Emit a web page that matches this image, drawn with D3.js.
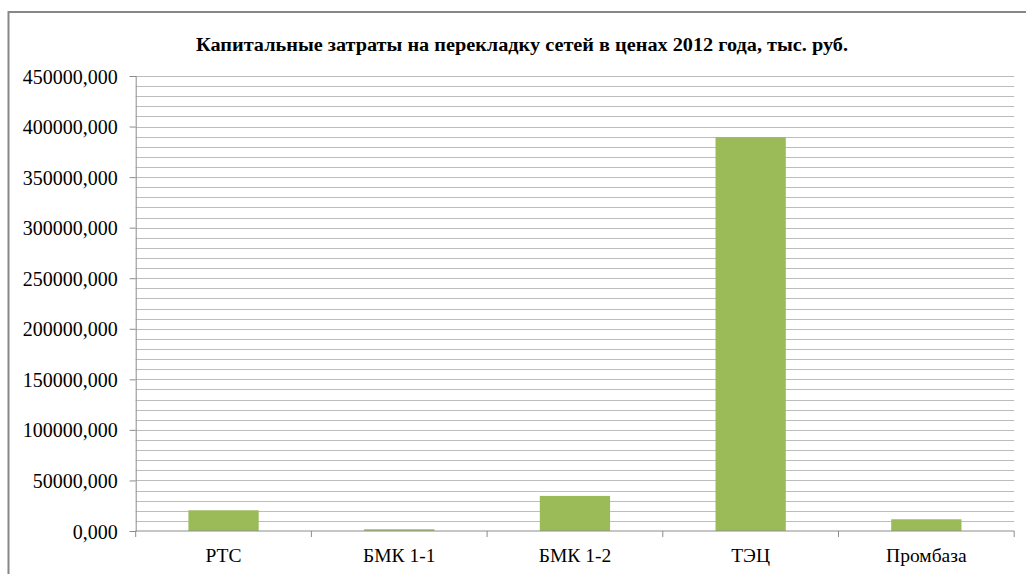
<!DOCTYPE html>
<html><head><meta charset="utf-8">
<script src="https://cdn.jsdelivr.net/npm/d3@7"></script>
<style>body{margin:0;background:#fff}svg{display:block}</style>
</head><body>
<svg id="c" width="1026" height="574"></svg>
<script>
const title = "Капитальные затраты  на перекладку сетей в ценах 2012 года, тыс.  руб.";
const categories = ["РТС", "БМК 1-1", "БМК 1-2", "ТЭЦ", "Промбаза"];
const values = [20500, 1700, 34700, 389500, 11600];
const yMax = 450000;
const majorStep = 50000;
const minorStep = 10000;

const FONT = "'Liberation Serif', 'Times New Roman', serif";
const svg = d3.select("#c");
const m = {left: 135.7, right: 1014.2, top: 76, bottom: 531};

svg.append("rect").attr("x", 8.5).attr("y", 12).attr("width", 1030).attr("height", 580)
  .attr("fill", "#fff").attr("stroke", "#878787").attr("stroke-width", 2);

svg.append("text").attr("x", 522).attr("y", 51).attr("text-anchor", "middle")
  .attr("font-family", FONT).attr("font-weight", "bold").attr("font-size", 18.5)
  .attr("textLength", 652).attr("lengthAdjust", "spacingAndGlyphs")
  .attr("fill", "#000").text(title);

const x = d3.scaleBand().domain(categories).range([m.left, m.right]).paddingInner(0.6).paddingOuter(0.3);
const y = d3.scaleLinear().domain([0, yMax]).range([m.bottom, m.top]);

// gridlines
const minor = d3.range(minorStep, yMax + 1, minorStep);
svg.append("g").selectAll("line").data(minor).join("line")
  .attr("x1", m.left).attr("x2", m.right)
  .attr("y1", d => Math.round(y(d)) + 0.5).attr("y2", d => Math.round(y(d)) + 0.5)
  .attr("stroke", "#bdbdbd").attr("stroke-width", 1);

// bars
svg.append("g").selectAll("rect").data(values).join("rect")
  .attr("x", (d, i) => x(categories[i])).attr("width", x.bandwidth())
  .attr("y", d => y(d)).attr("height", d => y(0) - y(d))
  .attr("fill", "#9bbb59");

// y axis
const yAxis = d3.axisLeft(y).tickValues(d3.range(0, yMax + 1, majorStep))
  .tickFormat(d => d3.format("d")(d) + ",000").tickSize(6).tickPadding(12);
const gy = svg.append("g").attr("transform", `translate(${m.left},0)`).call(yAxis);
gy.select(".domain").attr("stroke", "#8c8c8c");
gy.selectAll(".tick line").attr("stroke", "#8c8c8c");
gy.selectAll(".tick text").attr("font-family", FONT).attr("font-size", 20).attr("fill", "#000").attr("dy", "0.35em");

// x axis
const xb = d3.scaleLinear().domain([0, categories.length]).range([m.left, m.right]);
const gx = svg.append("g").attr("transform", `translate(0,${m.bottom})`);
gx.append("line").attr("x1", m.left).attr("x2", m.right).attr("stroke", "#8c8c8c");
gx.selectAll("line.t").data(d3.range(0, categories.length + 1)).join("line").attr("class", "t")
  .attr("x1", d => xb(d)).attr("x2", d => xb(d)).attr("y1", 0).attr("y2", 6).attr("stroke", "#8c8c8c");
gx.selectAll("text").data(categories).join("text")
  .attr("x", d => x(d) + x.bandwidth() / 2).attr("y", 31).attr("text-anchor", "middle")
  .attr("font-family", FONT).attr("font-size", 19.5).attr("fill", "#000").text(d => d);
</script>
</body></html>
